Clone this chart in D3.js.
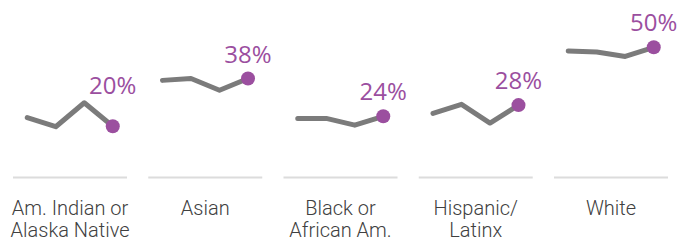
<!DOCTYPE html>
<html>
<head>
<meta charset="utf-8">
<script src="https://cdn.jsdelivr.net/npm/d3@7"></script>
<style>
  body { margin: 0; background: #fff; }
</style>
</head>
<body>
<div id="chart"></div>
<script>
// groups and their two label lines
var groups = ["Am. Indian or Alaska Native", "Asian", "Black or African Am.", "Hispanic/ Latinx", "White"];
var groupLines = [["Am. Indian or", "Alaska Native"], ["Asian"], ["Black or", "African Am."], ["Hispanic/", "Latinx"], ["White"]];
var periods = ["p1", "p2", "p3", "p4"];

// share (%) per period, one array per group
var amIndian = [23, 19.5, 28.7, 19.7];
var asian = [37.3, 38, 33.5, 38];
var black = [22.7, 22.7, 20.1, 23.5];
var hispanic = [24.6, 28.1, 20.9, 27.8];
var white = [48.6, 48.2, 46.5, 50];
var series = [amIndian, asian, black, hispanic, white];

var width = 687, height = 244;
var lineColor = "#7b7b7b", dotColor = "#9b4f9f";

var svg = d3.select("#chart").append("svg")
    .attr("width", width)
    .attr("height", height);

var x = d3.scaleBand().domain(groups).range([13, 668]).paddingInner(0.157).paddingOuter(0);
var xi = d3.scalePoint().domain(periods).range([0, x.bandwidth()]).padding(0.5);
var y = d3.scaleLinear().domain([0, 50]).range([177.5, 47.3]);
var fmt = d3.format(".0f");

var line = d3.line()
    .x(function (d, i) { return xi(periods[i]); })
    .y(function (d) { return y(d); });

var panel = svg.selectAll("g.panel")
    .data(groups)
    .enter().append("g")
    .attr("class", "panel")
    .attr("transform", function (d) { return "translate(" + x(d) + ",0)"; });

// grey base line at zero
panel.append("line")
    .attr("x1", 0)
    .attr("x2", x.bandwidth())
    .attr("y1", y(0))
    .attr("y2", y(0))
    .style("stroke", "#dcdcdc")
    .style("stroke-width", 2);

panel.append("path")
    .attr("d", function (d, i) { return line(series[i]); })
    .style("fill", "none")
    .style("stroke", lineColor)
    .style("stroke-width", 5)
    .style("stroke-linejoin", "round")
    .style("stroke-linecap", "round");

panel.append("circle")
    .attr("cx", xi(periods[periods.length - 1]))
    .attr("cy", function (d, i) { return y(series[i][series[i].length - 1]); })
    .attr("r", 7)
    .style("fill", dotColor);

// value label over last point, kept clear of the line
panel.append("text")
    .attr("x", xi(periods[periods.length - 1]))
    .attr("y", function (d, i) {
        var vals = series[i];
        var last = y(vals[vals.length - 1]);
        var top = y(d3.max(vals.slice(0, -1)));
        return Math.min(last - 16, top - 9);
    })
    .attr("text-anchor", "middle")
    .style("font-family", "'Open Sans', sans-serif")
    .style("font-weight", 400)
    .style("font-size", "24px")
    .style("fill", dotColor)
    .text(function (d, i) { return fmt(series[i][series[i].length - 1]) + "%"; });

// category names
panel.append("text")
    .attr("x", x.bandwidth() / 2)
    .attr("y", 215)
    .attr("text-anchor", "middle")
    .style("font-family", "Roboto, sans-serif")
    .style("font-weight", 300)
    .style("font-size", "20px")
    .style("fill", "#404040")
    .selectAll("tspan")
    .data(function (d, i) { return groupLines[i]; })
    .enter().append("tspan")
    .attr("x", x.bandwidth() / 2)
    .attr("dy", function (d, i) { return i === 0 ? 0 : 22; })
    .text(function (d) { return d; });
</script>
</body>
</html>
